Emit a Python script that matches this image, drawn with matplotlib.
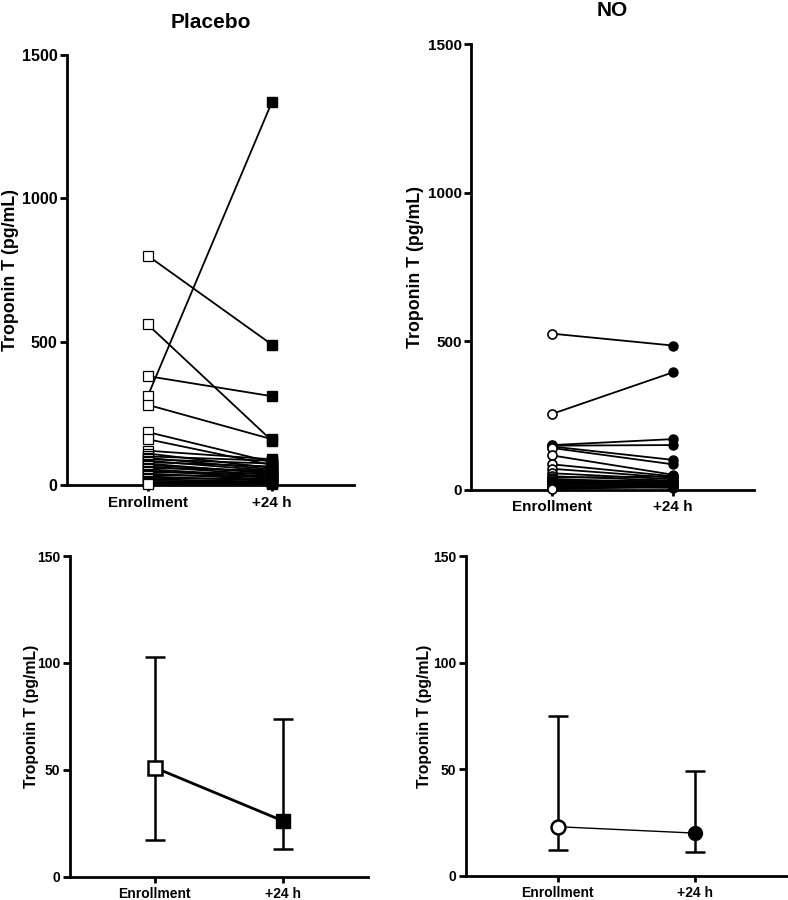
import numpy as np
import matplotlib.pyplot as plt

plt.rcParams['font.family'] = ['Liberation Sans', 'DejaVu Sans']
plt.rcParams['font.weight'] = 'bold'

# Individual patients - Placebo (enrollment, +24 h)
plac_enroll = [800, 560, 380, 310, 280, 185, 160, 120, 110, 100, 95, 90, 85, 80,
               75, 70, 65, 60, 55, 50, 45, 40, 35, 30, 25, 20, 15, 10, 8, 5]
plac_24h = [490, 155, 310, 1335, 160, 80, 70, 90, 60, 85, 55, 75, 50, 65,
            40, 45, 35, 50, 30, 25, 40, 20, 30, 15, 20, 12, 10, 8, 6, 4]

# Individual patients - NO
no_enroll = [525, 255, 150, 148, 145, 140, 115, 85, 70, 55, 45, 40, 35, 30,
             28, 25, 22, 20, 18, 15, 12, 10, 8, 5, 2]
no_24h = [485, 395, 170, 150, 100, 85, 50, 45, 40, 35, 30, 45, 25, 20,
          28, 18, 22, 15, 12, 20, 10, 8, 6, 10, 10]

# Median with IQR
plac_med = [51, 26]
plac_lo = [17, 13]
plac_hi = [103, 74]
no_med = [23, 20]
no_lo = [12, 11]
no_hi = [75, 49]

xlabels = ["Enrollment", "+24 h"]
xpos = [0, 1]

fig = plt.figure(figsize=(7.88, 9), dpi=100)

def style(ax, ymax, yticks, xlim, labx, fy=11.5, fx=11, fl=12.8):
    ax.spines['top'].set_visible(False)
    ax.spines['right'].set_visible(False)
    ax.spines['left'].set_linewidth(2)
    ax.spines['bottom'].set_linewidth(2)
    ax.set_ylim(0, ymax)
    ax.set_xlim(*xlim)
    ax.set_yticks(yticks)
    ax.set_xticks(xpos)
    ax.set_xticklabels(xlabels, fontsize=fx, fontweight='bold')
    ax.tick_params(axis='y', width=2, length=5, labelsize=fy, pad=2)
    ax.tick_params(axis='x', width=2, length=4, labelsize=fx)
    ax.set_ylabel("Troponin T (pg/mL)", fontsize=fl, fontweight='bold')
    ax.yaxis.set_label_coords(labx, 0.5)
    for t in ax.get_yticklabels():
        t.set_fontweight('bold')

# top left: Placebo individual
ax1 = fig.add_axes([0.085, 0.461, 0.364, 0.478])
for a, b in zip(plac_enroll, plac_24h):
    ax1.plot(xpos, [a, b], color='black', lw=1.3, zorder=2)
ax1.plot(np.zeros(len(plac_enroll)), plac_enroll, 's', ms=6.5, mfc='white', mec='black', mew=0.9, ls='none', zorder=3, clip_on=False)
ax1.plot(np.ones(len(plac_24h)), plac_24h, 's', ms=6.5, mfc='black', mec='black', ls='none', zorder=3, clip_on=False)
style(ax1, 1500, [0, 500, 1000, 1500], (-0.65, 1.66), -0.168)
fig.text(0.267, 0.975, "Placebo", ha='center', va='center', fontsize=15, fontweight='bold')

# top right: NO individual
ax2 = fig.add_axes([0.598, 0.456, 0.359, 0.495])
for a, b in zip(no_enroll, no_24h):
    ax2.plot(xpos, [a, b], color='black', lw=1.3, zorder=2)
ax2.plot(np.zeros(len(no_enroll)), no_enroll, 'o', ms=6.5, mfc='white', mec='black', mew=1.2, ls='none', zorder=3, clip_on=False)
ax2.plot(np.ones(len(no_24h)), no_24h, 'o', ms=6.5, mfc='black', mec='black', ls='none', zorder=3, clip_on=False)
style(ax2, 1500, [0, 500, 1000, 1500], (-0.67, 1.67), -0.168, fy=11)
fig.text(0.777, 0.988, "NO", ha='center', va='center', fontsize=15, fontweight='bold')

# bottom left: Placebo median
ax3 = fig.add_axes([0.089, 0.026, 0.378, 0.356])
yerr = [np.array(plac_med) - np.array(plac_lo), np.array(plac_hi) - np.array(plac_med)]
ax3.errorbar(xpos, plac_med, yerr=yerr, fmt='none', ecolor='black', elinewidth=1.8, capsize=7, capthick=1.8, zorder=1)
ax3.plot(xpos, plac_med, color='black', lw=2, zorder=2)
ax3.plot(0, plac_med[0], 's', ms=10, mfc='white', mec='black', mew=1.8, zorder=3)
ax3.plot(1, plac_med[1], 's', ms=10, mfc='black', mec='black', zorder=3)
style(ax3, 150, [0, 50, 100, 150], (-0.66, 1.66), -0.105, fy=10, fx=10, fl=11.3)

# bottom right: NO median
ax4 = fig.add_axes([0.591, 0.027, 0.409, 0.355])
yerr = [np.array(no_med) - np.array(no_lo), np.array(no_hi) - np.array(no_med)]
ax4.errorbar(xpos, no_med, yerr=yerr, fmt='none', ecolor='black', elinewidth=1.8, capsize=7, capthick=1.8, zorder=1)
ax4.plot(xpos, no_med, color='black', lw=1, zorder=2)
ax4.plot(0, no_med[0], 'o', ms=10, mfc='white', mec='black', mew=1.8, zorder=3)
ax4.plot(1, no_med[1], 'o', ms=10, mfc='black', mec='black', zorder=3)
style(ax4, 150, [0, 50, 100, 150], (-0.67, 1.68), -0.104, fy=10, fx=10, fl=11.3)

fig.savefig("out.png", dpi=100)
